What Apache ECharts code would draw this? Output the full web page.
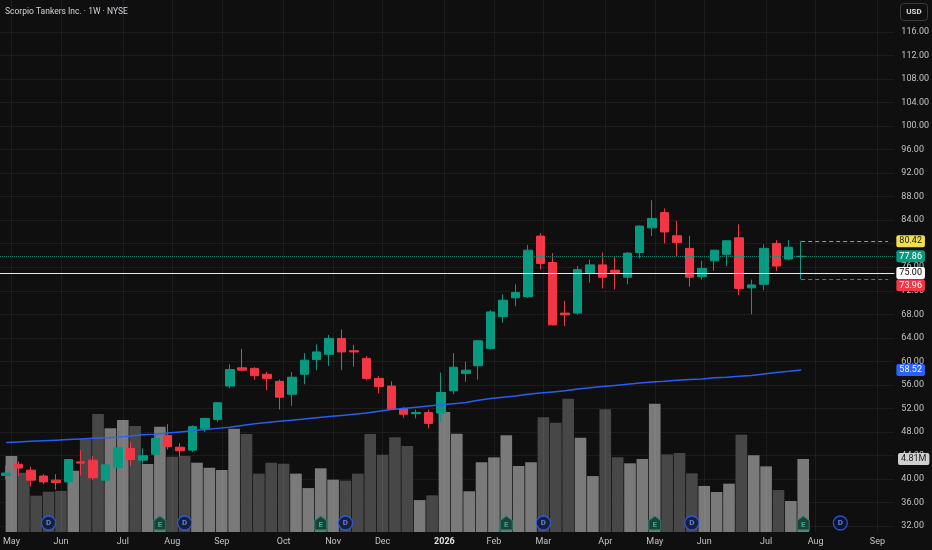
<!DOCTYPE html>
<html>
<head>
<meta charset="utf-8">
<script src="https://cdn.jsdelivr.net/npm/echarts@6/dist/echarts.min.js"></script>
<style>
html,body{margin:0;padding:0;background:#0f0f0f;}
#c{width:932px;height:550px;}
</style>
</head>
<body>
<div id="c"></div>
<script>
// ---------- DATA ----------
const weeks = [
 '2025-05-05','2025-05-12','2025-05-19','2025-05-26','2025-06-02','2025-06-09','2025-06-16','2025-06-23','2025-06-30',
 '2025-07-07','2025-07-14','2025-07-21','2025-07-28','2025-08-04','2025-08-11','2025-08-18','2025-08-25',
 '2025-09-01','2025-09-08','2025-09-15','2025-09-22','2025-09-29','2025-10-06','2025-10-13','2025-10-20','2025-10-27',
 '2025-11-03','2025-11-10','2025-11-17','2025-11-24','2025-12-01','2025-12-08','2025-12-15','2025-12-22','2025-12-29',
 '2026-01-05','2026-01-12','2026-01-19','2026-01-26','2026-02-02','2026-02-09','2026-02-16','2026-02-23',
 '2026-03-02','2026-03-09','2026-03-16','2026-03-23','2026-03-30','2026-04-06','2026-04-13','2026-04-20','2026-04-27',
 '2026-05-04','2026-05-11','2026-05-18','2026-05-25','2026-06-01','2026-06-08','2026-06-15','2026-06-22','2026-06-29',
 '2026-07-06','2026-07-13','2026-07-20','2026-07-27','2026-08-03','2026-08-10','2026-08-17','2026-08-24','2026-08-31',
 '2026-09-07','2026-09-14'
];
const opens  = [40.6,42.5,41.5,40.5,39.8,39.5,42.9,43.2,39.8,41.9,45.2,43.2,44.2,47.4,45.4,44.9,48.6,50.1,55.8,58.9,
  58.8,57.8,56.6,54.4,57.8,60.3,61.2,63.9,61.8,60.5,57.1,55.8,52.0,51.1,51.3,51.2,55.0,57.95,59.25,62.2,
  67.6,70.8,71.0,81.3,76.8,68.2,68.2,75.1,76.4,75.5,74.3,78.5,82.7,85.3,81.35,79.2,74.4,77.1,78.2,81.0,
  72.5,73.1,80.05,77.4,77.8];
const closes = [41.0,41.85,39.8,39.5,39.4,43.3,42.7,40.2,42.4,45.3,43.3,43.95,46.9,45.5,44.8,48.9,50.3,52.95,58.6,58.5,
  57.55,57.1,53.9,57.3,60.2,61.6,63.9,61.6,61.6,57.1,55.7,51.8,51.0,51.3,49.45,54.7,59.0,58.5,63.5,68.4,
  70.4,71.7,78.9,76.65,66.2,67.9,75.6,76.4,74.3,75.1,78.4,83.0,84.3,82.0,80.2,74.3,75.8,78.9,80.5,72.4,
  73.0,79.2,76.2,79.4,77.86];
const lows   = [39.9,40.5,38.7,39.1,38.2,39.0,40.6,39.8,39.4,41.8,42.2,42.6,44.0,45.0,43.8,44.6,48.0,49.7,55.4,58.3,
  56.9,55.1,51.8,52.4,56.1,58.5,59.2,58.5,59.1,56.8,54.55,51.7,50.4,50.3,48.6,49.7,54.4,56.5,56.9,62.0,
  66.6,69.4,70.8,75.6,66.1,66.0,67.9,73.4,72.4,72.2,73.1,77.5,81.3,80.05,77.9,72.7,73.9,75.4,76.2,71.3,
  68.0,72.1,75.4,77.2,73.96];
const highs  = [42.3,43.0,42.1,40.8,40.8,43.4,44.9,43.9,42.5,45.8,46.3,45.2,47.8,49.3,46.1,49.1,50.4,53.1,59.5,62.1,
  59.0,58.2,56.9,58.2,61.4,62.9,64.5,65.4,62.8,60.9,57.5,56.6,52.2,51.8,51.8,58.1,61.4,59.9,63.6,68.7,
  71.4,73.1,79.8,81.8,78.4,70.3,76.2,77.3,78.5,77.7,78.6,83.1,87.4,86.0,83.9,81.35,77.1,79.0,80.6,83.3,
  73.9,79.9,80.6,80.6,80.42];
const volumesM = [5.0,3.9,2.39,2.65,2.70,4.03,6.1,7.76,6.82,7.37,6.97,4.47,6.93,4.95,5.0,4.56,4.23,4.08,6.8,6.45,
  3.84,4.56,4.49,3.84,2.89,4.19,3.44,3.38,3.84,6.45,5.09,6.23,5.66,2.1,2.41,7.9,6.47,2.68,4.59,4.91,
  6.36,4.34,4.59,7.55,7.19,8.77,6.2,3.68,8.07,4.91,4.52,4.8,8.44,5.11,5.2,3.86,3.03,2.63,3.18,6.4,
  5.05,4.32,2.76,2.04,4.81];
const maValues = [46.2,46.3,46.4,46.5,46.6,46.7,46.8,46.9,47.0,47.1,47.3,47.5,47.6,47.8,48.0,48.2,48.4,48.6,48.8,49.1,
  49.4,49.6,49.8,50.0,50.2,50.4,50.6,50.8,51.0,51.2,51.5,51.8,52.0,52.2,52.4,52.6,52.8,53.0,53.4,53.7,
  53.9,54.1,54.4,54.6,54.8,55.0,55.3,55.5,55.7,55.9,56.1,56.3,56.5,56.6,56.8,56.9,57.0,57.2,57.3,57.45,
  57.6,57.85,58.1,58.3,58.52];
const dividendWeeks = ['2025-05-26','2025-08-11','2025-11-10','2026-03-02','2026-05-25','2026-08-17'];
const earningsWeeks = ['2025-07-28','2025-10-27','2026-02-09','2026-05-04','2026-07-27'];
const priceAxis = [32, 116, 4];          // min, max, tick step
const levelLine = 75.00;
const lastClose = 77.86;
const rangeHigh = 80.42;
const rangeLow = 73.96;
const maLast = 58.52;
const lastVolume = 4.81;
const monthNames = ['Jan','Feb','Mar','Apr','May','Jun','Jul','Aug','Sep','Oct','Nov','Dec'];

// ---------- CHART ----------
const UP = '#089981', DOWN = '#f23645', FONT = 'Roboto, "Noto Sans", sans-serif';
const lastIdx = opens.length - 1;
const candleData = opens.map((o, i) => [o, closes[i], lows[i], highs[i]]);
const volData = volumesM.map((v, i) => ({
  value: v,
  itemStyle: { color: closes[i] >= opens[i] ? '#7a7a7a' : '#474747' }
}));
function isMonthStart(i) {
  return i === 0 || weeks[i].slice(5, 7) !== weeks[i - 1].slice(5, 7);
}
const monthLines = weeks.filter((w, i) => isMonthStart(i)).map(w => ({ xAxis: w }));

function tag(bg, fg, text, extra) {
  return Object.assign({
    show: true, position: 'end', distance: 2, formatter: text,
    backgroundColor: bg, color: fg, padding: [2, 3, 1, 3], opacity: 1,
    fontSize: 9, fontFamily: FONT, borderRadius: 2
  }, extra || {});
}
const hidden = { color: 'rgba(0,0,0,0)', width: 1, opacity: 1 };

const chart = echarts.init(document.getElementById('c'), null, { renderer: 'canvas' });
chart.setOption({
  animation: false,
  backgroundColor: '#0f0f0f',
  title: {
    text: 'Scorpio Tankers Inc. · 1W · NYSE',
    left: 5, top: 7, padding: 0,
    textStyle: { color: '#d1d4dc', fontSize: 8.5, fontWeight: 'normal', fontFamily: FONT }
  },
  graphic: [{
    type: 'group', right: 4, top: 3,
    children: [
      { type: 'rect', shape: { x: 0, y: 0, width: 27, height: 17, r: 3 },
        style: { fill: '#0f0f0f', stroke: '#3c3c3c', lineWidth: 1 } },
      { type: 'text', x: 13.5, y: 8.5,
        style: { text: 'USD', fill: '#dcdcdc', fontSize: 8, fontWeight: 'bold', fontFamily: FONT,
                 align: 'center', verticalAlign: 'middle' } }
    ]
  }],
  grid: [
    { left: 0, right: 36, top: 32, bottom: 24 },
    { left: 0, right: 36, top: 0, bottom: 18 }
  ],
  xAxis: [
    { type: 'category', gridIndex: 0, data: weeks, boundaryGap: true, show: false },
    { type: 'category', gridIndex: 1, data: weeks, boundaryGap: true,
      axisLine: { show: false }, axisTick: { show: false }, splitLine: { show: false },
      axisLabel: {
        color: '#c4c4c4', fontSize: 9, fontFamily: FONT, margin: 5,
        interval: (index) => isMonthStart(index),
        formatter: (v) => {
          const m = +v.slice(5, 7);
          return m === 1 ? '{y|' + v.slice(0, 4) + '}' : monthNames[m - 1];
        },
        rich: { y: { color: '#e0e0e0', fontSize: 9, fontWeight: 'bold', fontFamily: FONT } }
      }
    }
  ],
  yAxis: [
    { type: 'value', gridIndex: 0, position: 'right', min: priceAxis[0], max: priceAxis[1], interval: priceAxis[2],
      axisLine: { show: false }, axisTick: { show: false },
      splitLine: { show: true, lineStyle: { color: 'rgba(255,255,255,0.055)', width: 1 } },
      axisLabel: { color: '#c4c4c4', fontSize: 9, fontFamily: FONT, margin: 7,
                   formatter: (v) => v.toFixed(2) }
    },
    { type: 'value', gridIndex: 1, min: 0, max: 35, show: false, splitLine: { show: false } }
  ],
  series: [
    {
      name: 'grid', type: 'line', xAxisIndex: 1, yAxisIndex: 1, data: [], z: 0, silent: true,
      markLine: { silent: true, symbol: ['none', 'none'], animation: false, label: { show: false },
        lineStyle: { color: 'rgba(255,255,255,0.055)', width: 1, type: 'solid' }, data: monthLines }
    },
    {
      name: 'Volume', type: 'bar', xAxisIndex: 1, yAxisIndex: 1, data: volData,
      barWidth: '94%', z: 1,
      markLine: { silent: true, symbol: ['none', 'none'], animation: false,
        data: [{ yAxis: lastVolume, lineStyle: hidden,
                 label: tag('#cfcfcf', '#222222', lastVolume.toFixed(2) + 'M') }] }
    },
    {
      name: 'STNG', type: 'candlestick', xAxisIndex: 0, yAxisIndex: 0, data: candleData,
      barWidth: '72%', z: 3,
      itemStyle: { color: UP, color0: DOWN, borderColor: UP, borderColor0: DOWN, borderWidth: 1 },
      markLine: {
        silent: true, symbol: ['none', 'none'], animation: false,
        data: [
          [{ coord: [weeks[lastIdx], rangeHigh], lineStyle: { color: '#9a9a9a', type: [4, 3], width: 1 }, label: { show: false } },
           { coord: [weeks[weeks.length - 1], rangeHigh] }],
          [{ coord: [weeks[lastIdx], rangeLow], lineStyle: { color: DOWN, type: [4, 3], width: 1 }, label: { show: false } },
           { coord: [weeks[weeks.length - 1], rangeLow] }],
          { yAxis: lastClose, lineStyle: { color: UP, type: 'dotted', width: 1, opacity: 0.8 },
            label: tag(UP, '#ffffff', lastClose.toFixed(2)) },
          { yAxis: rangeHigh, lineStyle: hidden, label: tag('#f2e04a', '#1a1a1a', rangeHigh.toFixed(2)) },
          { yAxis: rangeLow, lineStyle: hidden, label: tag(DOWN, '#ffffff', rangeLow.toFixed(2), { verticalAlign: 'top' }) },
          { yAxis: levelLine, lineStyle: { color: '#e8e8e8', type: 'solid', width: 1 },
            label: tag('#ffffff', '#000000', levelLine.toFixed(2)) }
        ]
      }
    },
    {
      name: 'MA', type: 'line', xAxisIndex: 0, yAxisIndex: 0, data: maValues,
      showSymbol: false, symbol: 'none', z: 4,
      lineStyle: { color: '#2962ff', width: 1.5, opacity: 0.95 },
      markLine: { silent: true, symbol: ['none', 'none'], animation: false,
        data: [{ yAxis: maLast, lineStyle: hidden, label: tag('#2962ff', '#ffffff', maLast.toFixed(2)) }] }
    },
    {
      name: 'Dividends', type: 'scatter', xAxisIndex: 1, yAxisIndex: 1, z: 5,
      data: dividendWeeks.map(w => [w, 0]),
      symbol: 'circle', symbolSize: 14, symbolOffset: [0, -9],
      itemStyle: { color: '#0c1733', borderColor: '#2962ff', borderWidth: 1.3 },
      label: { show: true, position: 'inside', formatter: 'D', color: '#7b9cff', fontSize: 8,
               fontWeight: 'bold', fontFamily: FONT }
    },
    {
      name: 'Earnings', type: 'scatter', xAxisIndex: 1, yAxisIndex: 1, z: 5,
      data: earningsWeeks.map(w => [w, 0]),
      symbol: 'path://M6,0 L12,4.5 L12,14 L0,14 L0,4.5 Z', symbolSize: [12, 14], symbolOffset: [0, -9],
      symbolKeepAspect: false,
      itemStyle: { color: '#0d3029', borderColor: '#1f8f76', borderWidth: 1.2 },
      label: { show: true, position: 'inside', formatter: 'E', color: '#3fc2a0', fontSize: 8,
               fontWeight: 'bold', fontFamily: FONT, offset: [0, 2] }
    }
  ]
});
</script>
</body>
</html>
